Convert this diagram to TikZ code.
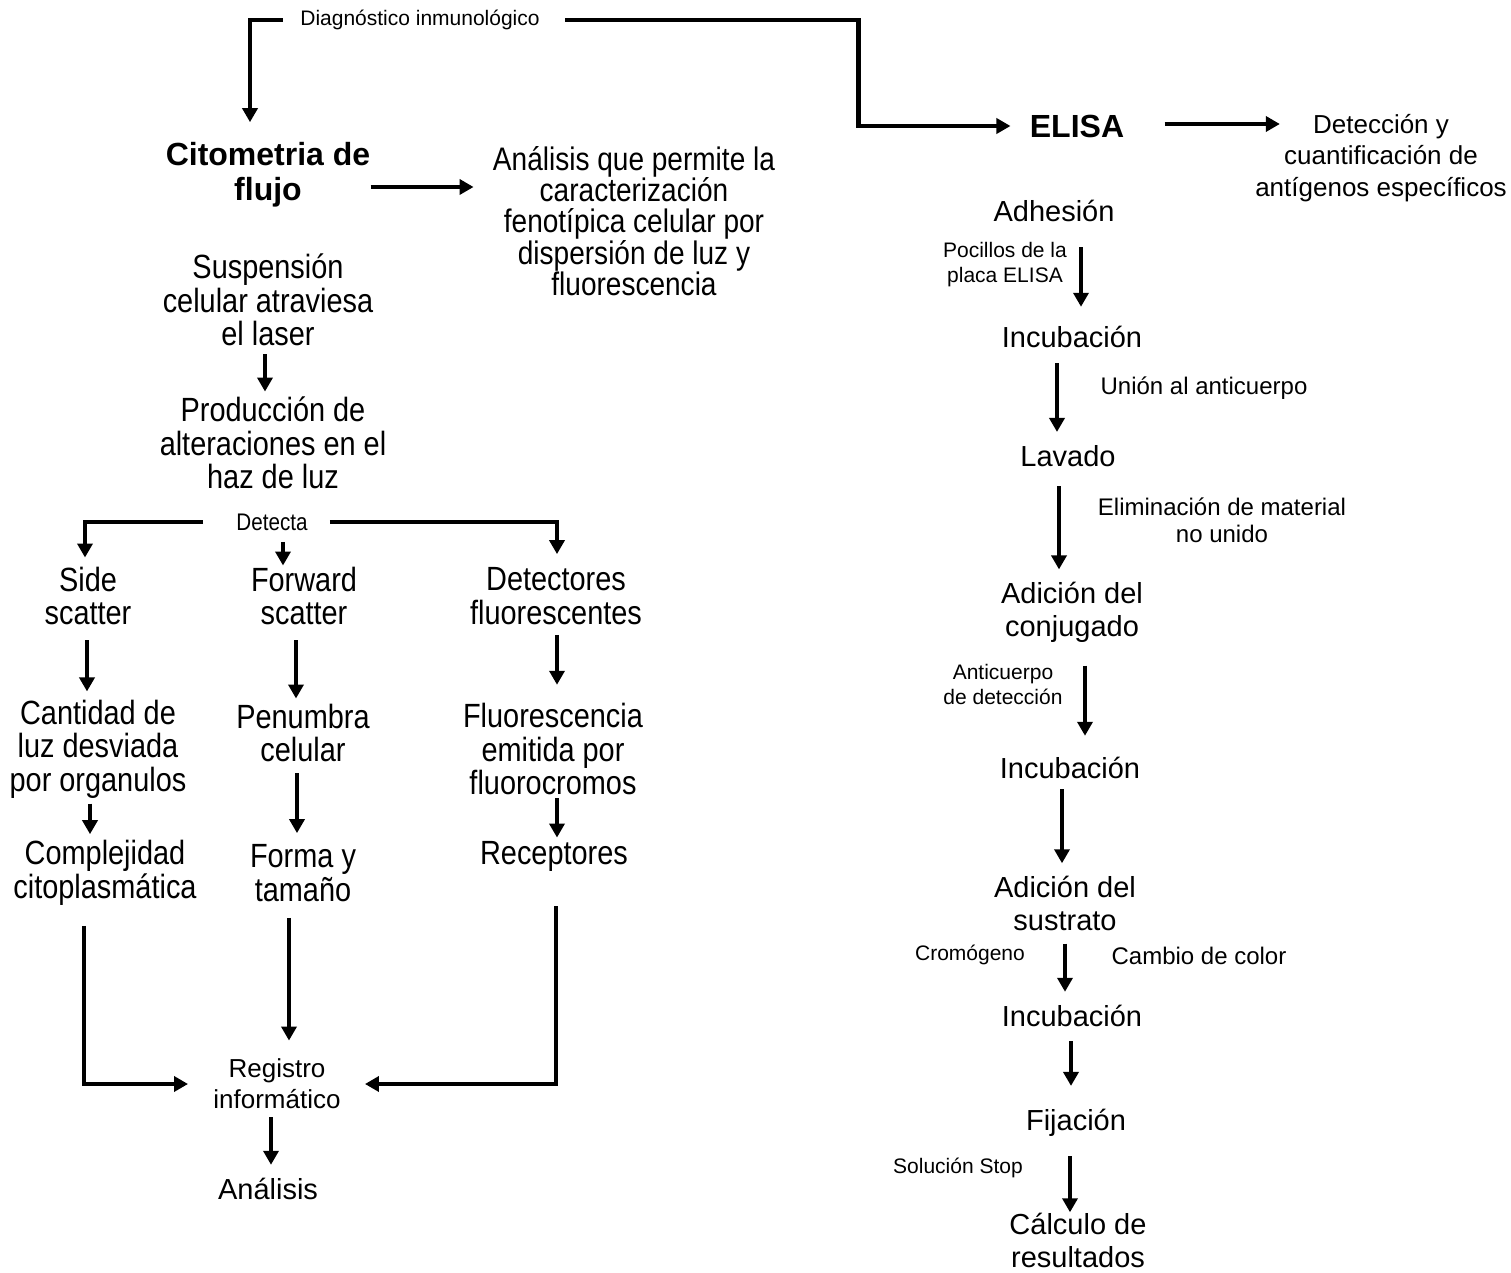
\documentclass[tikz,border=0pt]{standalone}
\usepackage{fontspec}
\setmainfont{Liberation Sans}
\newfontfamily\narrowfont[FakeStretch=0.86]{Liberation Sans}
\usetikzlibrary{arrows.meta,scopes}
\lineskiplimit=-\maxdimen

\tikzset{
  txt/.style={inner sep=0pt, align=center, font=\fontsize{14.5}{16.5}\selectfont},
  narrow/.style={inner sep=0pt, align=center, font=\narrowfont\fontsize{16.8}{16.75}\selectfont},
  ttl/.style={inner sep=0pt, align=center, font=\bfseries\fontsize{16}{17.5}\selectfont},
  mid/.style={inner sep=0pt, align=center, font=\fontsize{12}{13.5}\selectfont},
  note/.style={inner sep=0pt, align=center, font=\fontsize{10.5}{12.5}\selectfont},
  arr/.style={line width=2.4pt, -{Triangle[length=7pt,width=7.5pt]}},
  gap/.style 2 args={shorten <=#1, shorten >=#2},
}

\begin{document}
\begin{tikzpicture}[x=0.5pt, y=-0.5pt]
  \useasboundingbox (0,0) rectangle (1511,1273);

  \node[note] (diag) at (420,20) {Diagnóstico inmunológico};
  \node[ttl] (cito) at (268,175) {Citometria de\\flujo};
  \node[ttl] (elisa) at (1077,126) {ELISA};
  \node[txt, font=\fontsize{13}{15.75}\selectfont] (detd) at (1381,158) {Detección y\\cuantificación de\\antígenos específicos};

  \node[narrow, font=\narrowfont\fontsize{16.3}{15.6}\selectfont] (ana) at (634,221) {Análisis que permite la\\caracterización\\fenotípica celular por\\dispersión de luz y\\fluorescencia};
  \node[narrow] (susp) at (268,300) {Suspensión\\celular atraviesa\\el laser};
  \node[narrow] (prod) at (273,443) {Producción de\\alteraciones en el\\haz de luz};
  \node[narrow, font=\narrowfont\fontsize{12}{13}\selectfont] (det) at (272,522) {Detecta};
  \node[narrow] (side) at (88,596) {Side\\scatter};
  \node[narrow] (fwd) at (304,596) {Forward\\scatter};
  \node[narrow] (detf) at (556,596) {Detectores\\fluorescentes};
  \node[narrow] (cant) at (98,749) {Cantidad de\\luz desviada\\por organulos};
  \node[narrow] (pen) at (303,733) {Penumbra\\celular};
  \node[narrow] (fluo) at (553,749) {Fluorescencia\\emitida por\\fluorocromos};
  \node[narrow] (comp) at (105,873) {Complejidad\\citoplasmática};
  \node[narrow] (forma) at (303,873) {Forma y\\tamaño};
  \node[narrow] (rec) at (554,856) {Receptores};
  \node[txt, font=\fontsize{13}{15.5}\selectfont] (reg) at (277,1084) {Registro\\informático};
  \node[txt] (anal) at (268,1189) {Análisis};

  \node[txt] (adh) at (1054,211) {Adhesión};
  \node[note] (poc) at (1005,265) {Pocillos de la\\placa ELISA};
  \node[txt] (inc1) at (1072,337) {Incubación};
  \node[mid] (uni) at (1204,388) {Unión al anticuerpo};
  \node[txt] (lav) at (1068,456) {Lavado};
  \node[mid] (elim) at (1222,520) {Eliminación de material\\no unido};
  \node[txt] (adc) at (1072,612) {Adición del\\conjugado};
  \node[note] (antic) at (1003,684) {Anticuerpo\\de detección};
  \node[txt] (inc2) at (1070,768) {Incubación};
  \node[txt] (ads) at (1065,903) {Adición del\\sustrato};
  \node[note] (crom) at (970,955) {Cromógeno};
  \node[mid] (camb) at (1199,956) {Cambio de color};
  \node[txt] (inc3) at (1072,1016) {Incubación};
  \node[txt] (fij) at (1076,1123) {Fijación};
  \node[note] (sol) at (958,1168) {Solución Stop};
  \node[txt] (calc) at (1078,1240) {Cálculo de\\resultados};

  { [arr]
    \draw ([xshift=-8.5pt]diag.west) -| ([xshift=-9pt,yshift=10pt]cito.north);
    \draw ([xshift=12.5pt]diag.east) -| ([xshift=-85.5pt]elisa.west) -- ([xshift=-9.5pt]elisa.west);
    \draw[shorten >=9.5pt] ([yshift=-6pt]cito.east) -- ([yshift=17pt]ana.west);
    \draw[shorten <=20pt] ([yshift=1pt]elisa.east) -- ([xshift=12.5pt,yshift=17pt]detd.west);
    \draw[shorten >=4.5pt] ([xshift=-16.5pt]det.west) -| ([xshift=-1.5pt]side.north);
    \draw[shorten >=6.5pt] ([xshift=11pt]det.east) -| ([xshift=0.5pt]detf.north);
    \draw[shorten <=10pt, shorten >=12.5pt] ([xshift=-10.5pt]comp.south) |- (reg.west);
    \draw[shorten <=17.5pt, shorten >=12pt] ([xshift=1pt]rec.south) |- (reg.east);

    \draw[gap={4pt}{2.5pt}] ([xshift=-1.5pt]susp.south) -- ([xshift=-4pt]prod.north);
    \draw[gap={5.5pt}{0.5pt}] ([xshift=5.5pt]det.south) -- ([xshift=-10.5pt]fwd.north);
    \draw[gap={7.5pt}{4pt}] ([xshift=-0.5pt]side.south) -- ([xshift=-5.5pt]cant.north);
    \draw[gap={7.5pt}{2.5pt}] ([xshift=-4pt]fwd.south) -- ([xshift=-3.5pt]pen.north);
    \draw[gap={5pt}{9pt}] ([xshift=0.5pt]detf.south) -- ([xshift=2pt]fluo.north);
    \draw[gap={2.5pt}{3pt}] ([xshift=-4pt]cant.south) -- ([xshift=-7.5pt]comp.north);
    \draw[gap={5.5pt}{5.5pt}] ([xshift=-3pt]pen.south) -- ([xshift=-3pt]forma.north);
    \draw[gap={1.5pt}{1.5pt}] ([xshift=2pt]fluo.south) -- ([xshift=1.5pt]rec.north);
    \draw[gap={8pt}{9pt}] ([xshift=-7pt]forma.south) -- ([xshift=6pt]reg.north);
    \draw[gap={4pt}{6.5pt}] ([xshift=-3pt]reg.south) -- ([xshift=1.5pt]anal.north);

    \draw[gap={12.5pt}{9.5pt}] ([xshift=13.5pt]adh.south) -- ([xshift=4.5pt]inc1.north);
    \draw[gap={7.5pt}{6.5pt}] ([xshift=-7.5pt]inc1.south) -- ([xshift=-5.5pt]lav.north);
    \draw[gap={9.5pt}{6pt}] ([xshift=-4.5pt]lav.south) -- ([xshift=-6.5pt]adc.north);
    \draw[gap={11.5pt}{10.5pt}] ([xshift=6.5pt]adc.south) -- ([xshift=7.5pt]inc2.north);
    \draw[gap={5pt}{6pt}] ([xshift=-4pt]inc2.south) -- ([xshift=-1.5pt]ads.north);
    \draw[gap={6.5pt}{6.5pt}] (ads.south) -- ([xshift=-3.5pt]inc3.north);
    \draw[gap={7pt}{11.5pt}] ([xshift=-0.5pt]inc3.south) -- ([xshift=-2.5pt]fij.north);
    \draw[gap={9.5pt}{0pt}] ([xshift=-3pt]fij.south) -- ([xshift=-4pt]calc.north);
  }
\end{tikzpicture}
\end{document}
